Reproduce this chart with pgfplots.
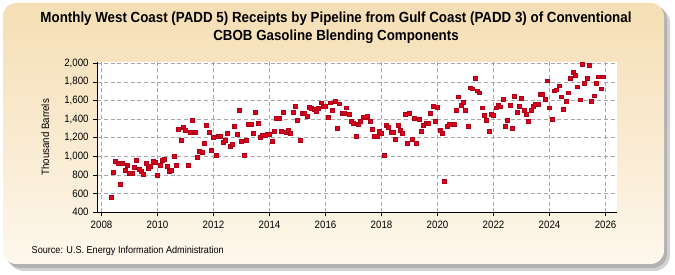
\documentclass[border=0pt]{standalone}
\usepackage{fontspec}
\setmainfont{Liberation Sans}[FakeStretch=0.91]
\usepackage{pgfplots}
\pgfplotsset{compat=1.18}
\definecolor{panelTop}{RGB}{245,222,180}
\definecolor{panelBot}{RGB}{254,247,236}
\definecolor{dotRed}{RGB}{222,0,24}
\definecolor{dotEdge}{RGB}{175,0,25}
\begin{document}
\begin{tikzpicture}
\begin{scope}[x=0.75pt,y=0.75pt]
\useasboundingbox (0,0) rectangle (675,275);
% shadow and panel
\fill[black!18,rounded corners=12] (8,4) rectangle (670,268);
\fill[black!30,rounded corners=11] (6,7) rectangle (667,270);
\shade[top color=panelTop,bottom color=panelBot,rounded corners=10] (3,11) rectangle (664,272);
\node[font=\bfseries\fontsize{11}{13.5}\selectfont,align=center] at (336,247)
  {Monthly West Coast (PADD 5) Receipts by Pipeline from Gulf Coast (PADD 3) of Conventional\\CBOB Gasoline Blending Components};
\node[font=\fontsize{7.5}{9}\selectfont,anchor=west] at (27,24) {Source: U.S. Energy Information Administration};
\end{scope}
\begin{axis}[
    at={(72.98pt,47.03pt)}, anchor=south west,
    scale only axis,
    width=390pt, height=112.5pt,
    xmin=2007.85, xmax=2026.42,
    ymin=400, ymax=2010,
    axis x line*=bottom, axis y line*=left,
    axis line style={black,-},
    axis background/.style={fill=white},
    xtick={2008,2010,...,2026},
    ytick={400,600,...,2000},
    grid=major,
    major grid style={gray!70,densely dashed,line width=0.4pt},
    tick align=outside,
    major tick length=3pt,
    tick style={black,line width=0.5pt},
    /pgf/number format/assume math mode=true,
    /pgf/number format/1000 sep={,},
    xticklabel style={/pgf/number format/1000 sep=},
    tick label style={font=\fontsize{8}{9}\selectfont},
    ylabel={Thousand Barrels},
    every axis y label/.style={at={(axis description cs:-0.1,0.5)},rotate=90,anchor=center,font=\fontsize{8}{9}\selectfont},
    clip=false,
]
\addplot[only marks,mark=square*,mark size=1.45pt,mark options={fill=dotRed,draw=dotEdge,line width=0.3pt}] coordinates {
(2008.333,562) (2008.417,831) (2008.5,946) (2008.583,930) (2008.667,702) (2008.75,930) (2008.833,849) (2008.917,903)
(2009.0,820) (2009.083,820) (2009.167,885) (2009.25,957) (2009.333,860) (2009.417,838) (2009.5,810) (2009.583,925) (2009.667,874) (2009.75,896) (2009.833,946) (2009.917,939)
(2010.0,795) (2010.083,903) (2010.167,957) (2010.25,968) (2010.333,892) (2010.417,842) (2010.5,849) (2010.583,1004) (2010.667,903) (2010.75,1292) (2010.833,1177) (2010.917,1317)
(2011.0,1281) (2011.083,910) (2011.167,1259) (2011.25,1389) (2011.333,1259) (2011.417,993) (2011.5,1054) (2011.583,1043) (2011.667,1141) (2011.75,1335) (2011.833,1259) (2011.917,1065)
(2012.0,1209) (2012.083,1015) (2012.167,1216) (2012.25,1216) (2012.333,1155) (2012.417,1173) (2012.5,1252) (2012.583,1112) (2012.667,1133) (2012.75,1324) (2012.833,1238) (2012.917,1500)
(2013.0,1162) (2013.083,1015) (2013.167,1177) (2013.25,1346) (2013.333,1346) (2013.417,1252) (2013.5,1475) (2013.583,1356) (2013.667,1202) (2013.75,1227) (2013.833,1227) (2013.917,1234)
(2014.0,1241) (2014.083,1166) (2014.167,1270) (2014.25,1407) (2014.333,1414) (2014.417,1270) (2014.5,1475) (2014.583,1263) (2014.667,1281) (2014.75,1252) (2014.833,1475) (2014.917,1543)
(2015.0,1389) (2015.083,1177) (2015.167,1464) (2015.25,1464) (2015.333,1432) (2015.417,1529) (2015.5,1518) (2015.583,1507) (2015.667,1479) (2015.75,1518) (2015.833,1576) (2015.917,1543)
(2016.0,1543) (2016.083,1421) (2016.167,1576) (2016.25,1497) (2016.333,1597) (2016.417,1306) (2016.5,1565) (2016.583,1464) (2016.667,1464) (2016.75,1522) (2016.833,1453) (2016.917,1378)
(2017.0,1356) (2017.083,1216) (2017.167,1346) (2017.25,1378) (2017.333,1421) (2017.417,1421) (2017.5,1432) (2017.583,1378) (2017.667,1292) (2017.75,1220) (2017.833,1216) (2017.917,1270)
(2018.0,1245) (2018.083,1015) (2018.167,1338) (2018.25,1317) (2018.333,1259) (2018.417,1259) (2018.5,1187) (2018.583,1335) (2018.667,1281) (2018.75,1248) (2018.833,1457) (2018.917,1141)
(2019.0,1464) (2019.083,1187) (2019.167,1414) (2019.25,1141) (2019.333,1403) (2019.417,1270) (2019.5,1338) (2019.583,1356) (2019.667,1356) (2019.75,1464) (2019.833,1543) (2019.917,1378)
(2020.0,1529) (2020.083,1281) (2020.167,1248) (2020.25,734) (2020.333,1328) (2020.417,1346) (2020.5,1346) (2020.583,1346) (2020.667,1500) (2020.75,1640) (2020.833,1550) (2020.917,1583)
(2021.0,1500) (2021.083,1328) (2021.167,1737) (2021.25,1727) (2021.333,1835) (2021.417,1705) (2021.5,1684) (2021.583,1522) (2021.667,1443) (2021.75,1392) (2021.833,1270) (2021.917,1453)
(2022.0,1446) (2022.083,1522) (2022.167,1550) (2022.25,1533) (2022.333,1615) (2022.417,1328) (2022.5,1392) (2022.583,1550) (2022.667,1306) (2022.75,1648) (2022.833,1475) (2022.917,1543)
(2023.0,1626) (2023.083,1500) (2023.167,1453) (2023.25,1378) (2023.333,1500) (2023.417,1543) (2023.5,1561) (2023.583,1561) (2023.667,1669) (2023.75,1669) (2023.833,1615) (2023.917,1813)
(2024.0,1522) (2024.083,1403) (2024.167,1705) (2024.25,1716) (2024.333,1759) (2024.417,1640) (2024.5,1511) (2024.583,1594) (2024.667,1684) (2024.75,1835) (2024.833,1903) (2024.917,1867)
(2025.0,1748) (2025.083,1608) (2025.167,1986) (2025.25,1781) (2025.333,1835) (2025.417,1975) (2025.5,1597) (2025.583,1651) (2025.667,1781) (2025.75,1856) (2025.833,1727) (2025.917,1856)
};
\end{axis}
\end{tikzpicture}
\end{document}
